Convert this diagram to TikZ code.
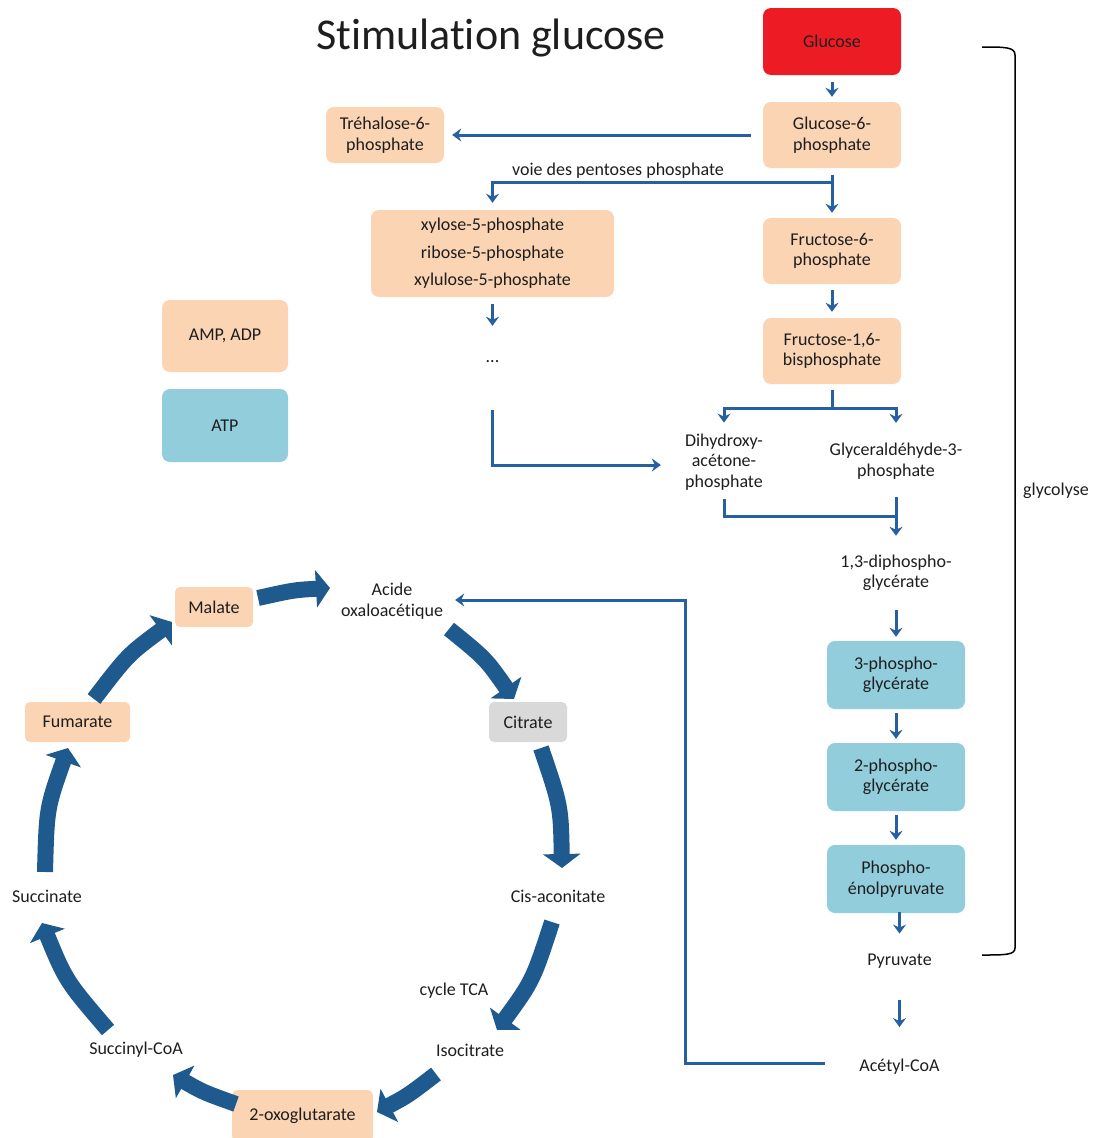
\documentclass[tikz,border=0pt]{standalone}
\usepackage{fontspec}
\setmainfont{Carlito}[Ligatures=NoCommon]
\usetikzlibrary{arrows.meta}
\definecolor{peach}{HTML}{FBD4B4}
\definecolor{aqua}{HTML}{92CDDC}
\definecolor{glured}{HTML}{ED1C24}
\definecolor{cgray}{HTML}{D9D9D9}
\definecolor{tcablue}{HTML}{1F5A8F}
\definecolor{linkblue}{HTML}{2760A0}
\definecolor{txt}{HTML}{1E1E1E}
\begin{document}
\begin{tikzpicture}[x=1pt,y=-1pt,
  every node/.style={font=\fontsize{18}{20.5}\selectfont, text=txt, align=center, inner sep=2pt},
  box/.style={rounded corners=8pt, minimum width=138pt, minimum height=66pt},
  smallbox/.style={rounded corners=5pt, minimum height=40pt},
  link/.style={draw=linkblue, line width=3pt},
  arr/.style={link, -{Stealth[length=9pt,width=13pt,inset=3pt]}},
  tca/.style={draw=tcablue, line width=16pt, -{Triangle[width=37pt,length=14pt]}}]
\useasboundingbox (0,0) rectangle (1094,1138);

% title
\node[font=\fontsize{44}{50}\selectfont] (title) at (491,38) {Stimulation glucose};

% glycolysis
\node[box, fill=glured, minimum height=67pt] (glc) at (832,41.5) {Glucose};
\node[box, fill=peach] (g6p) at (832,135) {Glucose-6-\\phosphate};
\node[box, fill=peach, minimum width=118pt, minimum height=56pt] (tre) at (385,135) {Tréhalose-6-\\phosphate};
\node (voie) at (618,171) {voie des pentoses phosphate};
\node[box, fill=peach, minimum width=243pt, minimum height=87pt, font=\fontsize{18}{27.5}\selectfont] (pent) at (492.5,253.5) {xylose-5-phosphate\\ribose-5-phosphate\\xylulose-5-phosphate};
\node[box, fill=peach] (f6p) at (832,251) {Fructose-6-\\phosphate};
\node[box, fill=peach] (f16) at (832,351) {Fructose-1,6-\\bisphosphate};
\node[minimum height=72pt] (dots) at (492.5,362) {...};
\node[box, fill=peach, minimum width=126pt, minimum height=72pt] (ampadp) at (225,336) {AMP, ADP};
\node[box, fill=aqua, minimum width=126pt, minimum height=73pt] (atp) at (225,425.5) {ATP};
\node (dhap) at (724,462) {Dihydroxy-\\acétone-\\phosphate};
\node (g3p) at (896,461) {Glyceraldéhyde-3-\\phosphate};
\node (dpg) at (896,573) {1,3-diphospho-\\glycérate};
\node[box, fill=aqua, minimum height=68pt] (pg3) at (896,675) {3-phospho-\\glycérate};
\node[box, fill=aqua, minimum height=68pt] (pg2) at (896,777) {2-phospho-\\glycérate};
\node[box, fill=aqua, minimum height=68pt] (pep) at (896,879) {Phospho-\\énolpyruvate};
\node (pyr) at (899.5,961) {Pyruvate};
\node (acoa) at (899.5,1067) {Acétyl-CoA};
\node (glyco) at (1056,491) {glycolyse};

% TCA nodes
\node (oaa) at (392,601) {Acide\\oxaloacétique};
\node[smallbox, fill=cgray, minimum width=78pt] (cit) at (528,722) {Citrate};
\node (cis) at (558,896) {Cis-aconitate};
\node (iso) at (470,1050) {Isocitrate};
\node[rounded corners=6pt, fill=peach, minimum width=141pt, minimum height=52pt] (oxo) at (302.5,1116) {2-oxoglutarate};
\node (sca) at (136,1050) {Succinyl-CoA};
\node (suc) at (47,896) {Succinate};
\node[smallbox, fill=peach, minimum width=105pt] (fum) at (77.5,722) {Fumarate};
\node[smallbox, fill=peach, minimum width=78pt] (mal) at (214,607) {Malate};
\node (cyc) at (454,991) {cycle TCA};

% glycolysis connectors
\draw[arr, shorten <=7pt, shorten >=5pt] (glc) -- (g6p);
\draw[arr, shorten <=12pt, shorten >=8pt] (g6p) -- (tre);
\coordinate (pj) at (832,182);
\draw[arr, shorten <=7pt, shorten >=5pt] (g6p) -- (f6p);
\draw[arr, shorten >=7pt] (pj) -| (pent.north);
\draw[arr, shorten <=7pt] (pent) -- (dots);
\coordinate (pstart) at (492.5,410);
\draw[arr, shorten >=22pt] (pstart) |- ([yshift=-3pt]dhap.west);
\draw[arr, shorten <=6pt, shorten >=6pt] (f6p) -- (f16);
\coordinate (split) at (832,408);
\draw[link, shorten <=6pt] (f16.south) -- (split);
\draw[arr, shorten >=9pt] (split) -| (dhap.north);
\draw[arr, shorten >=18pt] (split) -| (g3p.north);
\coordinate (join) at (896,516);
\draw[link, shorten <=7pt] (dhap.south) |- (join);
\draw[arr, shorten <=16pt, shorten >=17pt] (g3p) -- (dpg);
\draw[arr, shorten <=17pt, shorten >=4pt] (dpg) -- (pg3);
\draw[arr, shorten <=4pt, shorten >=4pt] (pg3) -- (pg2);
\draw[arr, shorten <=4pt, shorten >=5pt] (pg2) -- (pep);
\draw[arr, shorten <=-1pt, shorten >=18pt] ([xshift=3.5pt]pep.south) -- (pyr.north);
\draw[arr, shorten <=30pt, shorten >=30pt] (pyr) -- (acoa);
\coordinate (ret) at (685,600);
\draw[arr, shorten <=32pt, shorten >=10pt] ([yshift=4pt]acoa.west) -| (ret) -- ([yshift=1pt]oaa.east);

% bracket
\draw[line width=1.5pt, black] (982,47) .. controls (1005,47) and (1015,47) .. (1015,55) -- (1015,948) .. controls (1015,955) and (1005,955) .. (982,955);

% TCA arrows
\coordinate (t1s) at (258,598); \coordinate (t1e) at (330,588);
\coordinate (t2s) at (449,629); \coordinate (t2e) at (514,699);
\coordinate (t3s) at (541,748); \coordinate (t3e) at (562,868);
\coordinate (t4s) at (552,922); \coordinate (t4e) at (497,1030);
\coordinate (t5s) at (436,1074); \coordinate (t5e) at (377,1112);
\coordinate (t6s) at (236,1104); \coordinate (t6e) at (173,1075);
\coordinate (t7s) at (108,1030); \coordinate (t7e) at (42,923);
\coordinate (t8s) at (45,872); \coordinate (t8e) at (68,748);
\coordinate (t9s) at (94,699); \coordinate (t9e) at (172,622);
\draw[tca] (t1s) .. controls (294,590) .. (t1e);
\draw[tca] (t2s) .. controls (485.6,658.6) .. (t2e);
\draw[tca] (t3s) .. controls (560.8,806) .. (t3e);
\draw[tca] (t4s) .. controls (532.9,980.5) .. (t4e);
\draw[tca] (t5s) .. controls (407.7,1095.7) .. (t5e);
\draw[tca] (t6s) .. controls (203.4,1092.3) .. (t6e);
\draw[tca] (t7s) .. controls (66,981) .. (t7e);
\draw[tca] (t8s) .. controls (46.7,808) .. (t8e);
\draw[tca] (t9s) .. controls (128,654.6) .. (t9e);
\end{tikzpicture}
\end{document}
